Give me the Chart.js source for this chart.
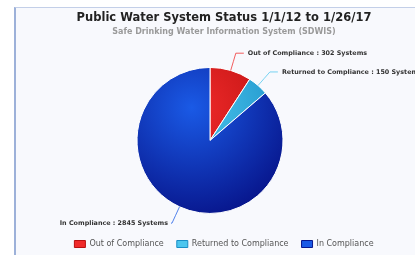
<!DOCTYPE html>
<html>
<head>
<meta charset="utf-8">
<script src="https://cdn.jsdelivr.net/npm/chart.js@4.4.1/dist/chart.umd.min.js"></script>
<style>
  html, body { margin: 0; padding: 0; background: #ffffff; width: 415px; height: 255px; overflow: hidden; }
  #marco {
    position: absolute; left: 14px; top: 7px; width: 416px; height: 253px;
    background: #f8f9fd; border-left: 2px solid #9db1d9; border-top: 1px solid #c3cfe8;
  }
  #marco canvas { display: block; }
</style>
</head>
<body>
<div id="marco"><canvas id="myChart" width="416" height="253"></canvas></div>
<script>
// datos del grafico
const categorias = ['Out of Compliance', 'Returned to Compliance', 'In Compliance'];
const sistemas = [302, 150, 2845];
const colores = [
  ['#f02a2a', '#b81010'],
  ['#4cc6ee', '#1a8ec6'],
  ['#1a5ae6', '#08178e']
];

const ctx = document.getElementById('myChart').getContext('2d');
const fuente = "'DejaVu Sans', Verdana, sans-serif";

// relleno con degradado radial, foco arriba a la izquierda como el original
function degradado(context){
  const chart = context.chart;
  const c = colores[context.dataIndex];
  const area = chart.chartArea;
  const meta = chart.getDatasetMeta(0);
  const r = meta.controller && meta.controller.outerRadius;
  if(!area || !r) return c[0];
  const cx = (area.left + area.right) / 2 - r * 0.25, cy = (area.top + area.bottom) / 2 - r * 0.45;
  const g = chart.ctx.createRadialGradient(cx, cy, 0, cx, cy, r * 1.5);
  g.addColorStop(0, c[0]);
  g.addColorStop(1, c[1]);
  return g;
}

// hueco a la derecha solo para el area del pastel (leyenda y titulo ocupan todo el ancho)
const hueco = {
  id: 'hueco',
  beforeInit(chart){
    const caja = {
      position: 'right', weight: 100, fullSize: false, options: {},
      isHorizontal(){ return false; },
      getPadding(){ return { left: 0, right: 0, top: 0, bottom: 0 }; },
      update(maxW, maxH){ this.width = 28; this.height = maxH; },
      draw(){}
    };
    Chart.layouts.addBox(chart, caja);
  }
};

// etiquetas con linea conectora (estilo highcharts)
const etiquetas = {
  id: 'etiquetas',
  afterDatasetsDraw(chart){
    const c = chart.ctx;
    const meta = chart.getDatasetMeta(0);
    meta.data.forEach((arco, i) => {
      const medio = (arco.startAngle + arco.endAngle) / 2;
      const dx = Math.cos(medio), dy = Math.sin(medio);
      const r = arco.outerRadius;
      const x0 = arco.x + dx * r, y0 = arco.y + dy * r;
      const xc = arco.x + dx * (r + 10), yc = arco.y + dy * (r + 10);
      const x1 = arco.x + dx * (r + 18), y1 = arco.y + dy * (r + 18);
      const derecha = dx >= 0;
      const x2 = x1 + (derecha ? 8 : -1);
      c.save();
      c.strokeStyle = colores[i][0];
      c.globalAlpha = 0.75;
      c.lineWidth = 1;
      c.beginPath();
      c.moveTo(x0, y0);
      c.quadraticCurveTo(xc, yc, x1, y1);
      c.lineTo(x2, y1);
      c.stroke();
      c.globalAlpha = 1;
      c.fillStyle = '#333333';
      c.font = 'bold 6.4px ' + fuente;
      c.textBaseline = 'middle';
      c.textAlign = derecha ? 'left' : 'right';
      c.fillText(categorias[i] + ' : ' + sistemas[i] + ' Systems', x2 + (derecha ? 4 : -3), y1);
      c.restore();
    });
  }
};

const grafico = new Chart(ctx, {
  type: 'pie',
  data: {
    labels: categorias,
    datasets: [{
      data: sistemas,
      backgroundColor: degradado,
      borderColor: '#ffffff',
      borderWidth: 1,
      radius: 73
    }]
  },
  options: {
    responsive: false,
    animation: false,
    layout: { padding: { top: 0, bottom: 3, left: 0, right: 0 } },
    plugins: {
      title: {
        display: true,
        text: 'Public Water System Status 1/1/12 to 1/26/17',
        color: '#222222',
        font: { family: fuente, size: 11.5, weight: 'bold' },
        padding: { top: 3.5, bottom: 1.5 }
      },
      subtitle: {
        display: true,
        text: 'Safe Drinking Water Information System (SDWIS)',
        color: '#9a9a9a',
        font: { family: fuente, size: 8, weight: 'bold' },
        padding: { top: 0, bottom: 17.5 }
      },
      legend: {
        position: 'bottom',
        labels: {
          boxWidth: 11,
          boxHeight: 7,
          padding: 13,
          color: '#555555',
          font: { family: fuente, size: 8 },
          generateLabels(chart){
            return categorias.map((nombre, i) => ({
              text: nombre,
              fillStyle: colores[i][0],
              strokeStyle: colores[i][1],
              lineWidth: 1,
              index: i,
              datasetIndex: 0,
              fontColor: '#555555'
            }));
          }
        }
      },
      tooltip: { enabled: false }
    }
  },
  plugins: [hueco, etiquetas]
});
</script>
</body>
</html>
